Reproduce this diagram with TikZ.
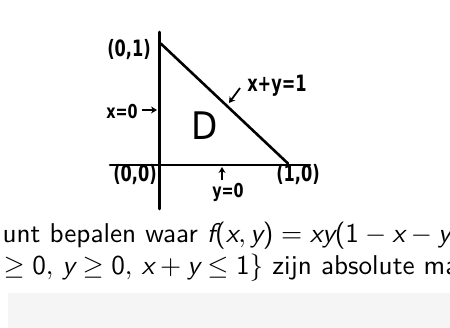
\documentclass[tikz,border=0pt]{standalone}
\usepackage{fontspec}
\newfontfamily\hand{DejaVu Sans Condensed}
\usetikzlibrary{arrows.meta}
\newcommand\mv[1]{\mbox{\sffamily\itshape #1}}
\newcommand\mr[1]{\mbox{\sffamily #1}}
\tikzset{
  stroke/.style={line width=2.6pt, line cap=round, draw=black},
  handarrow/.style={line width=1.8pt, -{Stealth[length=6pt,width=7pt]}},
  handlabel/.style={font=\hand\bfseries\fontsize{18}{18}\selectfont, inner sep=0pt, yscale=1.25},
  smalllabel/.style={font=\hand\bfseries\fontsize{16}{16}\selectfont, inner sep=0pt, yscale=1.2},
  bodytext/.style={font=\sffamily, scale=2.72, inner sep=0pt, anchor=base west},
}
\begin{document}
\begin{tikzpicture}[x=1pt,y=-1pt]
\useasboundingbox (0,0) rectangle (450,328);
\clip (0,0) rectangle (450,328);
\fill[black!4] (8,293) rectangle (450,328);
% axes and triangle
\coordinate (vtop) at (159.5,32);
\coordinate (vbot) at (159.5,209);
\coordinate (hl) at (110,165);
\coordinate (hr) at (310,165);
\coordinate (top) at (160.7,43.5);
\coordinate (right) at (288,163.5);
\draw[stroke] (vtop) -- (vbot);
\draw[stroke] (hl) -- (hr);
\draw[stroke] (top) -- (right);
% labels
\node[handlabel] (p01) at (129,50) {(0,1)};
\node[handlabel] (p00) at (135,175) {(0,0)};
\node[handlabel] (p10) at (298,175) {(1,0)};
\node[handlabel] (lxy) at (277,86) {x+y=1};
\node[smalllabel] (lx0) at (122,112) {x=0};
\node[smalllabel] (ly0) at (228,192) {y=0};
\node[font=\hand\fontsize{38}{38}\selectfont, inner sep=0pt] (dd) at (205,126) {D};
% arrows
\coordinate (a1s) at (240,88);
\coordinate (a1e) at (229,103);
\coordinate (a2s) at (142,110);
\coordinate (a2e) at (157,110);
\coordinate (a3s) at (222,180);
\coordinate (a3e) at (222,167);
\draw[handarrow] (a1s) -- (a1e);
\draw[handarrow] (a2s) -- (a2e);
\draw[handarrow] (a3s) -- (a3e);
% body text
\node[bodytext] (l1) at (2,243) {unt bepalen waar $\mv{f}\mr{(}\mv{x},\mv{y}\mr{)} = \mv{xy}\mr{(1} - \mv{x} - \mv{y}\mr{)}$};
\node[bodytext] (l2) at (3,275) {$\geq \mr{0},\, \mv{y} \geq \mr{0},\, \mv{x}+\mv{y} \leq \mr{1}\}$ zijn absolute ma};
\end{tikzpicture}
\end{document}
